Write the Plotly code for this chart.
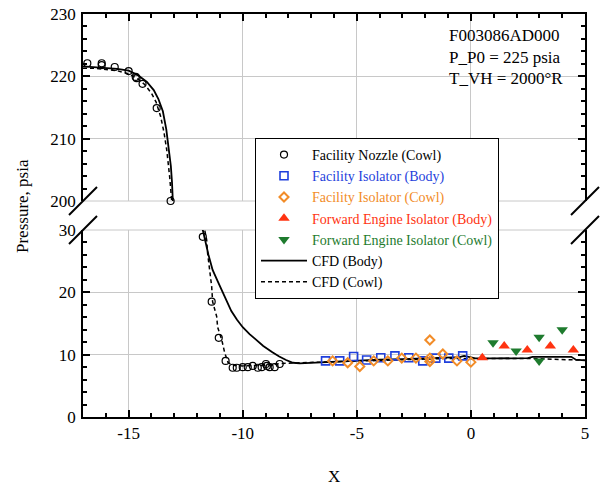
import plotly.graph_objects as go

# ---------------- data ----------------
x_ticks = [-15, -10, -5, 0, 5]
x_ticklabels = ["-15", "-10", "-5", "0", "5"]
y_low_ticks = [0, 10, 20, 30]
y_high_ticks = [200, 210, 220, 230]

nozzle_top_x = [-16.81, -16.18, -16.18, -15.61, -15.0, -14.69, -14.65, -14.39, -13.77, -13.16]
nozzle_top_y = [222.1, 222.1, 221.8, 221.5, 220.85, 219.9, 219.7, 218.8, 214.9, 200.0]
nozzle_low_x = [-11.75, -11.36, -11.05, -10.75, -10.44, -10.26, -10.0, -9.78, -9.56, -9.34,
                -9.17, -8.98, -8.94, -8.82, -8.6, -8.38]
nozzle_low_y = [28.9, 18.5, 12.7, 9.0, 7.9, 7.9, 8.0, 8.0, 8.2, 7.9,
                8.0, 8.5, 8.2, 8.0, 8.0, 8.5]

iso_body_x = [-6.37, -5.75, -5.14, -4.57, -3.95, -3.33, -2.72, -2.11, -1.54, -0.97, -0.36]
iso_body_y = [9.0, 9.0, 9.7, 9.15, 9.5, 9.8, 9.5, 9.0, 9.45, 9.45, 9.8]

iso_cowl_x = [-6.06, -5.4, -4.87, -4.26, -3.64, -3.03, -2.41, -1.8, -1.8, -1.8, -1.23, -0.61, 0.0]
iso_cowl_y = [9.0, 8.7, 8.1, 9.0, 9.0, 9.45, 9.45, 12.35, 9.45, 8.9, 10.1, 9.0, 8.8]

fe_body_x = [0.50, 1.46, 2.47, 3.48, 4.49]
fe_body_y = [9.5, 11.4, 10.75, 11.4, 10.75]

fe_cowl_x = [0.97, 1.98, 2.99, 2.99, 4.0]
fe_cowl_y = [11.9, 10.6, 12.8, 9.0, 14.0]

cfd_body_top_x = [-17.0, -16.5, -16.0, -15.5, -15.0, -14.6, -14.2, -13.9, -13.7, -13.5,
                  -13.35, -13.25, -13.15, -13.1, -13.07, -13.05]
cfd_body_top_y = [221.6, 221.5, 221.4, 221.2, 220.9, 220.2, 219.1, 217.8, 216.4, 214.4,
                  211.5, 208.8, 205.6, 203.0, 200.6, 199.0]
cfd_body_low_x = [-11.9, -11.75, -11.5, -11.32, -11.1, -10.92, -10.7, -10.5, -10.25, -10.0,
                  -9.7, -9.4, -9.1, -8.7, -8.4, -8.1, -7.8, -7.5, -7.0, -6.5,
                  -6.0, -5.0, -4.0, -3.0, -2.0, -1.0, -0.5, -0.3, -0.1, 0.2,
                  1.0, 2.0, 2.5, 2.7, 3.5, 4.4, 4.6, 5.0]
cfd_body_low_y = [32.0, 30.0, 26.0, 23.6, 21.8, 20.4, 18.6, 17.0, 15.6, 14.4,
                  13.3, 12.4, 11.4, 10.4, 9.7, 9.15, 8.7, 8.6, 8.7, 8.8,
                  8.9, 9.0, 9.2, 9.3, 9.4, 9.5, 9.6, 9.8, 9.6, 9.4,
                  9.4, 9.4, 9.45, 9.65, 9.7, 9.65, 9.2, 9.1]

cfd_cowl_top_x = [-17.0, -16.5, -16.0, -15.5, -15.0, -14.6, -14.3, -14.0, -13.8, -13.6,
                  -13.45, -13.33, -13.2, -13.12, -13.08]
cfd_cowl_top_y = [221.3, 221.3, 221.1, 220.9, 220.4, 219.6, 218.7, 217.3, 215.9, 213.6,
                  211.0, 208.2, 203.8, 200.6, 198.5]
cfd_cowl_low_x = [-11.72, -11.67, -11.58, -11.54, -11.45, -11.36, -11.32, -11.14, -11.1, -10.92,
                  -10.79, -10.65, -10.45, -10.0, -9.0, -8.3, -7.5, -6.5, -5.0, -3.0,
                  -1.0, 0.0, 2.5, 5.0]
cfd_cowl_low_y = [31.0, 30.0, 28.4, 26.3, 23.6, 20.9, 18.5, 16.1, 14.4, 12.4,
                  10.3, 8.8, 8.3, 8.2, 8.3, 8.6, 8.7, 8.8, 9.0, 9.25,
                  9.4, 9.35, 9.4, 9.1]

info_lines = ["F003086AD000", "P_P0 = 225 psia", "T_VH = 2000°R"]

# ---------------- style ----------------
FONT = "Liberation Serif, Times New Roman, Times, serif"
BLUE = "#1f3fdc"
ORANGE = "#f28c28"
RED = "#ff3311"
GREEN = "#1e7b2e"
GRID = "#c8c8c8"

fig = go.Figure()

def col(name, c):
    return "<span style='color:%s'>%s</span>" % (c, name)

# lines first (drawn underneath markers)
fig.add_trace(go.Scatter(x=cfd_body_top_x, y=cfd_body_top_y, xaxis="x2", yaxis="y2", mode="lines",
                         line=dict(color="black", width=1.8), name="CFD (Body)",
                         legendgroup="cb", showlegend=False))
fig.add_trace(go.Scatter(x=cfd_body_low_x, y=cfd_body_low_y, mode="lines",
                         line=dict(color="black", width=1.8), name="CFD (Body)",
                         legendgroup="cb", legendrank=6))
fig.add_trace(go.Scatter(x=cfd_cowl_top_x, y=cfd_cowl_top_y, xaxis="x2", yaxis="y2", mode="lines",
                         line=dict(color="black", width=1.5, dash="4px,3px"), name="CFD (Cowl)",
                         legendgroup="cc", showlegend=False))
fig.add_trace(go.Scatter(x=cfd_cowl_low_x, y=cfd_cowl_low_y, mode="lines",
                         line=dict(color="black", width=1.5, dash="4px,3px"), name="CFD (Cowl)",
                         legendgroup="cc", legendrank=7))

circ = dict(symbol="circle-open", size=7, color="black", line=dict(width=1.2, color="black"))
fig.add_trace(go.Scatter(x=nozzle_top_x, y=nozzle_top_y, xaxis="x2", yaxis="y2", mode="markers",
                         marker=circ, name="Facility Nozzle (Cowl)", legendgroup="nz",
                         showlegend=False, cliponaxis=False))
fig.add_trace(go.Scatter(x=nozzle_low_x, y=nozzle_low_y, mode="markers", marker=circ,
                         name="Facility Nozzle (Cowl)", legendgroup="nz", legendrank=1,
                         cliponaxis=False))
fig.add_trace(go.Scatter(x=iso_body_x, y=iso_body_y, mode="markers",
                         marker=dict(symbol="square-open", size=8, color=BLUE, line=dict(width=1.6, color=BLUE)),
                         name=col("Facility Isolator (Body)", BLUE), legendrank=2))
fig.add_trace(go.Scatter(x=iso_cowl_x, y=iso_cowl_y, mode="markers",
                         marker=dict(symbol="diamond-open", size=7, color=ORANGE, line=dict(width=2, color=ORANGE)),
                         name=col("Facility Isolator (Cowl)", ORANGE), legendrank=3))
fig.add_trace(go.Scatter(x=fe_body_x, y=fe_body_y, mode="markers",
                         marker=dict(symbol="triangle-up", size=10, color=RED, line=dict(width=0)),
                         name=col("Forward Engine Isolator (Body)", RED), legendrank=4))
fig.add_trace(go.Scatter(x=fe_cowl_x, y=fe_cowl_y, mode="markers",
                         marker=dict(symbol="triangle-down", size=10, color=GREEN, line=dict(width=0)),
                         name=col("Forward Engine Isolator (Cowl)", GREEN), legendrank=5))

# ---------------- layout ----------------
L, R, T, B = 83, 20, 14, 68
W, H = 605, 485
ph = H - T - B
pw = W - L - R
gap_px = 29
low_top = (ph - gap_px) / 2 / ph
high_bot = 1 - low_top

tick_common = dict(ticks="inside", ticklen=7, tickwidth=1.5, tickcolor="black",
                   showline=True, linewidth=1.5, linecolor="black", automargin=False,
                   showgrid=True, gridcolor=GRID, gridwidth=1, zeroline=False,
                   tickfont=dict(family=FONT, size=17, color="black"))
xminor = dict(tickmode="linear", tick0=0, dtick=1, ticks="inside", ticklen=4,
              tickwidth=1.5, tickcolor="black", showgrid=False)
yminor = dict(tickmode="linear", tick0=0, dtick=2, ticks="inside", ticklen=4,
              tickwidth=1.5, tickcolor="black", showgrid=False)

fig.update_layout(
    width=W, height=H,
    margin=dict(l=L, r=R, t=T, b=B, autoexpand=False),
    paper_bgcolor="white", plot_bgcolor="white",
    font=dict(family=FONT, size=17, color="black"),
    xaxis=dict(domain=[0, 1], anchor="y", range=[-17, 5], tickmode="array",
               tickvals=x_ticks, ticktext=x_ticklabels, minor=xminor, **tick_common),
    xaxis2=dict(domain=[0, 1], anchor="y2", matches="x", range=[-17, 5], side="top",
                tickmode="array", tickvals=x_ticks, showticklabels=False,
                minor=xminor, **tick_common),
    yaxis=dict(domain=[0, low_top], anchor="x", range=[0, 30], tickmode="array",
               tickvals=y_low_ticks, mirror="ticks", ticklabelstandoff=2,
               minor=yminor, **tick_common),
    yaxis2=dict(domain=[high_bot, 1], anchor="x2", range=[200, 230], tickmode="array",
                tickvals=y_high_ticks, mirror="ticks", ticklabelstandoff=2,
                minor=yminor, **tick_common),
    legend=dict(x=(255 - L) / pw, y=(H - B - 138) / ph, xanchor="left", yanchor="top",
                bgcolor="white", bordercolor="black", borderwidth=1, itemwidth=46,
                font=dict(family=FONT, size=14, color="black"), tracegroupgap=0),
    showlegend=True,
)

# gridlines at the broken edges (200 and 30)
for ye in (high_bot, low_top):
    fig.add_shape(type="line", xref="paper", yref="paper", x0=0, x1=1, y0=ye, y1=ye,
                  line=dict(color=GRID, width=1), layer="below")

# axis titles
fig.add_annotation(text="Pressure, psia", xref="paper", yref="paper",
                   x=(22 - L) / pw, y=(H - B - 206) / ph, textangle=-90,
                   showarrow=False, font=dict(family=FONT, size=17), xanchor="center", yanchor="middle")
fig.add_annotation(text="X", xref="paper", yref="paper", x=0.5, y=(H - B - 476) / ph,
                   showarrow=False, font=dict(family=FONT, size=17), xanchor="center", yanchor="middle")

for i, t in enumerate(info_lines):
    fig.add_annotation(text=t, xref="paper", yref="paper", x=(447 - L) / pw,
                       y=(H - B - (35.5 + 21.5 * i)) / ph, xanchor="left", yanchor="middle",
                       showarrow=False, font=dict(family=FONT, size=17))

# axis-break slashes
dx = 14 / pw
dy = 14 / ph
for xe in (0, 1):
    for ye in (high_bot, low_top):
        fig.add_shape(type="line", xref="paper", yref="paper",
                      x0=xe - dx, y0=ye - dy, x1=xe + dx, y1=ye + dy,
                      line=dict(color="black", width=2))

fig.write_html("out.html")
